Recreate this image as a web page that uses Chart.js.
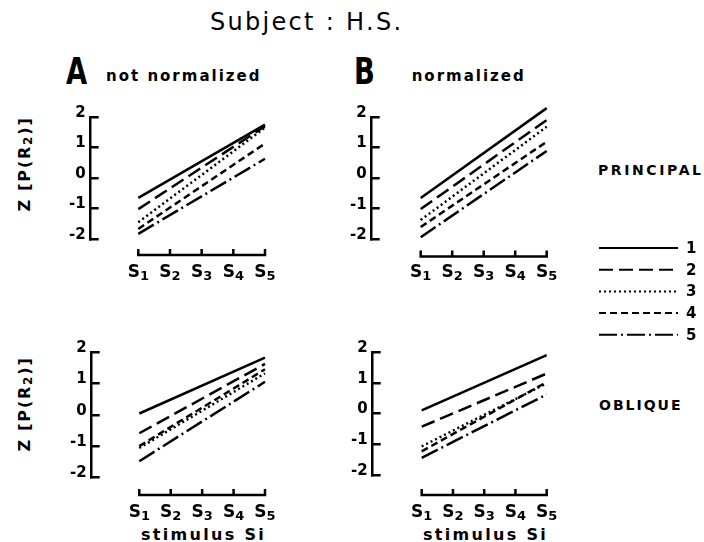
<!DOCTYPE html>
<html>
<head>
<meta charset="utf-8">
<script src="https://cdn.jsdelivr.net/npm/chart.js@4.4.1/dist/chart.umd.min.js"></script>
<style>
  html, body { margin: 0; padding: 0; background: #fff; }
  body { width: 704px; height: 542px; position: relative; overflow: hidden;
         font-family: "DejaVu Sans", sans-serif; color: #000; }
  canvas { position: absolute; }
  .t { position: absolute; white-space: nowrap; line-height: 1; }
  .big { font-family: "Liberation Sans Narrow", "DejaVu Sans Condensed", sans-serif;
         font-weight: bold; font-size: 38px; transform: scaleX(0.8); transform-origin: 0 0; }
  .cond { font-weight: bold; font-size: 15px; letter-spacing: 2px; }
  .side { font-weight: bold; font-size: 14px; letter-spacing: 2px; }
  .ylab { width: 130px; height: 20px; line-height: 20px; text-align: center;
          font-weight: bold; font-size: 16px; letter-spacing: 1.8px;
          transform: rotate(-90deg); transform-origin: 50% 50%; }
  .ylab sub { font-size: 75%; vertical-align: -0.15em; line-height: 0; }
  .xlab { font-weight: bold; font-size: 16px; letter-spacing: 2.3px; }
</style>
</head>
<body>
<div class="t" style="left:306.7px; top:10px; font-size:24px; letter-spacing:2.3px; transform:translateX(-50%);">Subject : H.S.</div>

<div class="t big" style="left:66px; top:52px;">A</div>
<div class="t cond" style="left:106px; top:69px;">not normalized</div>
<div class="t big" style="left:354px; top:52px;">B</div>
<div class="t cond" style="left:411.7px; top:69px;">normalized</div>

<div class="t ylab" style="left:-40px; top:154px;">Z [P(R<sub>2</sub>)]</div>
<div class="t ylab" style="left:-40px; top:394px;">Z [P(R<sub>2</sub>)]</div>

<div class="t side" style="left:598px; top:163.4px; letter-spacing:2.6px;">PRINCIPAL</div>
<div class="t side" style="left:599px; top:398.4px;">OBLIQUE</div>

<div class="t xlab" style="left:141px; top:526.5px;">stimulus Si</div>
<div class="t xlab" style="left:423px; top:526.5px;">stimulus Si</div>

<canvas id="tl"></canvas>
<canvas id="tr"></canvas>
<canvas id="bl"></canvas>
<canvas id="br"></canvas>

<script>
// Stimulus positions and their tick labels (digits after the letter are set as subscripts)
const stimuli = [1, 2, 3, 4, 5];
const stimulusLabels = ['S1', 'S2', 'S3', 'S4', 'S5'];
const zTicks = [-2, -1, 0, 1, 2];
const curveNames = ['1', '2', '3', '4', '5'];

// Fitted z[P(R2)] lines: value at S1 and at S5 for curves 1..5
const principalRawS1  = [-0.65, -1.02, -1.45, -1.67, -1.83];
const principalRawS5  = [ 1.75,  1.70,  1.65,  1.13,  0.63];
const principalNormS1 = [-0.65, -1.01, -1.37, -1.60, -1.93];
const principalNormS5 = [ 2.29,  1.90,  1.68,  1.19,  0.89];
const obliqueRawS1    = [ 0.04, -0.59, -1.06, -1.00, -1.48];
const obliqueRawS5    = [ 1.82,  1.62,  1.32,  1.45,  1.05];
const obliqueNormS1   = [ 0.10, -0.43, -1.07, -1.23, -1.44];
const obliqueNormS5   = [ 1.90,  1.30,  0.98,  1.02,  0.62];

// Line styles for curves 1..5
const dashes = [[], [14, 6], [2, 3], [7, 4], [18, 4, 2, 4]];

Chart.defaults.font.family = '"DejaVu Sans", sans-serif';
Chart.defaults.color = '#000';

// Detached stimulus axis with subscripted labels, placed from the x scale
const stimulusAxis = {
  id: 'stimulusAxis',
  afterDraw(chart, args, opts) {
    const { ctx, chartArea } = chart;
    const x = chart.scales.x;
    const y = chartArea.bottom + opts.gap;
    const px = stimuli.map(v => x.getPixelForValue(v));
    ctx.save();
    ctx.strokeStyle = '#000';
    ctx.lineWidth = 2.5;
    ctx.setLineDash([]);
    ctx.beginPath();
    ctx.moveTo(px[0] - 1.25, y);
    ctx.lineTo(px[px.length - 1] + 1.25, y);
    px.forEach(p => { ctx.moveTo(p, y + 1.25); ctx.lineTo(p, y - opts.tick); });
    ctx.stroke();

    ctx.fillStyle = '#000';
    ctx.textBaseline = 'alphabetic';
    ctx.textAlign = 'left';
    const base = chartArea.bottom + opts.labelBase;
    stimulusLabels.forEach((lab, i) => {
      const head = lab.slice(0, 1), sub = lab.slice(1);
      ctx.font = 'bold 17px "DejaVu Sans"';
      const wHead = ctx.measureText(head).width;
      ctx.font = 'bold 13px "DejaVu Sans"';
      const wSub = ctx.measureText(sub).width;
      const x0 = px[i] - (wHead + wSub) / 2;
      ctx.font = 'bold 17px "DejaVu Sans"';
      ctx.fillText(head, x0, base);
      ctx.font = 'bold 13px "DejaVu Sans"';
      ctx.fillText(sub, x0 + wHead, base + 3);
    });
    ctx.restore();
  }
};

// Key of line styles, drawn from the datasets of the chart it is attached to
const curveKey = {
  id: 'curveKey',
  afterDraw(chart, args, opts) {
    const ctx = chart.ctx;
    ctx.save();
    ctx.strokeStyle = '#000';
    ctx.fillStyle = '#000';
    ctx.lineWidth = 2;
    ctx.font = 'bold 15px "DejaVu Sans"';
    ctx.textBaseline = 'middle';
    chart.data.datasets.forEach((ds, i) => {
      const y = opts.y0 + i * opts.dy;
      ctx.setLineDash(ds.borderDash);
      ctx.beginPath();
      ctx.moveTo(opts.x, y);
      ctx.lineTo(opts.x + opts.len, y);
      ctx.stroke();
      ctx.setLineDash([]);
      ctx.fillText(ds.label, opts.x + opts.len + opts.gap, y + 1);
    });
    ctx.restore();
  }
};

function makeDatasets(s1, s5) {
  return curveNames.map((name, i) => ({
    label: name,
    data: [{ x: stimuli[0], y: s1[i] }, { x: stimuli[stimuli.length - 1], y: s5[i] }],
    borderColor: '#000',
    borderWidth: 2.5,
    borderDash: dashes[i],
    borderCapStyle: 'butt',
    pointRadius: 0,
    tension: 0,
    fill: false,
    clip: false
  }));
}

// g: canvas box and axis placement on the page
function makePanel(id, g, s1, s5, extraPlugins, extraOpts) {
  const canvas = document.getElementById(id);
  canvas.width = g.w; canvas.height = g.h;
  canvas.style.left = g.left + 'px';
  canvas.style.top = g.top + 'px';
  const unit = (g.s5X - g.s1X) / 4;
  const xMin = 1 - (g.s1X - g.axisX) / unit;
  const xMax = 5.7;
  const chartRight = g.s1X + (xMax - 1) * unit;
  const padRight = g.left + g.w - chartRight;
  const yWidth = g.axisX - g.left;
  const padBottom = 2;
  const xHeight = g.top + g.h - g.yM2 - padBottom;

  return new Chart(canvas, {
    type: 'line',
    data: { datasets: makeDatasets(s1, s5) },
    options: {
      responsive: false,
      animation: false,
      devicePixelRatio: 1,
      layout: { padding: { left: 0, top: g.y2 - g.top, right: padRight, bottom: padBottom } },
      plugins: Object.assign({
        legend: { display: false },
        tooltip: { enabled: false },
        stimulusAxis: { gap: g.xAxisY - g.yM2, tick: 6, labelBase: g.labelBase - g.yM2 }
      }, extraOpts || {}),
      scales: {
        x: {
          type: 'linear',
          min: xMin,
          max: xMax,
          afterBuildTicks: s => { s.ticks = stimuli.map(v => ({ value: v })); },
          afterFit: s => { s.height = xHeight; },
          grid: { display: false, drawTicks: false },
          border: { display: false },
          ticks: { display: false }
        },
        y: {
          type: 'linear',
          position: 'left',
          min: -2,
          max: 2,
          afterBuildTicks: s => { s.ticks = zTicks.map(v => ({ value: v })); },
          afterFit: s => { s.width = yWidth; },
          border: { display: true, color: '#000', width: 2.5 },
          grid: { display: true, drawOnChartArea: false, drawTicks: true,
                  tickLength: -8, color: '#000', lineWidth: 2.5 },
          ticks: {
            callback: v => String(v),
            font: { size: 15, weight: 'bold' },
            padding: 13,
            labelOffset: -4
          }
        }
      }
    },
    plugins: [stimulusAxis].concat(extraPlugins || [])
  });
}

makePanel('tl',
  { left: 40, top: 95, w: 260, h: 200, axisX: 90.7, s1X: 138.3, s5X: 265,
    y2: 115.7, yM2: 239.0, xAxisY: 255, labelBase: 277 },
  principalRawS1, principalRawS5);

makePanel('tr',
  { left: 320, top: 95, w: 384, h: 255, axisX: 371.7, s1X: 420.7, s5X: 546.7,
    y2: 115.0, yM2: 239.3, xAxisY: 256.5, labelBase: 277 },
  principalNormS1, principalNormS5, [curveKey],
  { curveKey: { x: 599 - 320, y0: 248 - 95, dy: 21.7, len: 79, gap: 8 } });

makePanel('bl',
  { left: 40, top: 330, w: 260, h: 195, axisX: 91.7, s1X: 139.3, s5X: 265,
    y2: 350.0, yM2: 477.5, xAxisY: 495, labelBase: 516.5 },
  obliqueRawS1, obliqueRawS5);

makePanel('br',
  { left: 320, top: 330, w: 260, h: 195, axisX: 372.7, s1X: 421.7, s5X: 546.7,
    y2: 350.0, yM2: 475.0, xAxisY: 495, labelBase: 516.5 },
  obliqueNormS1, obliqueNormS5);
</script>
</body>
</html>
